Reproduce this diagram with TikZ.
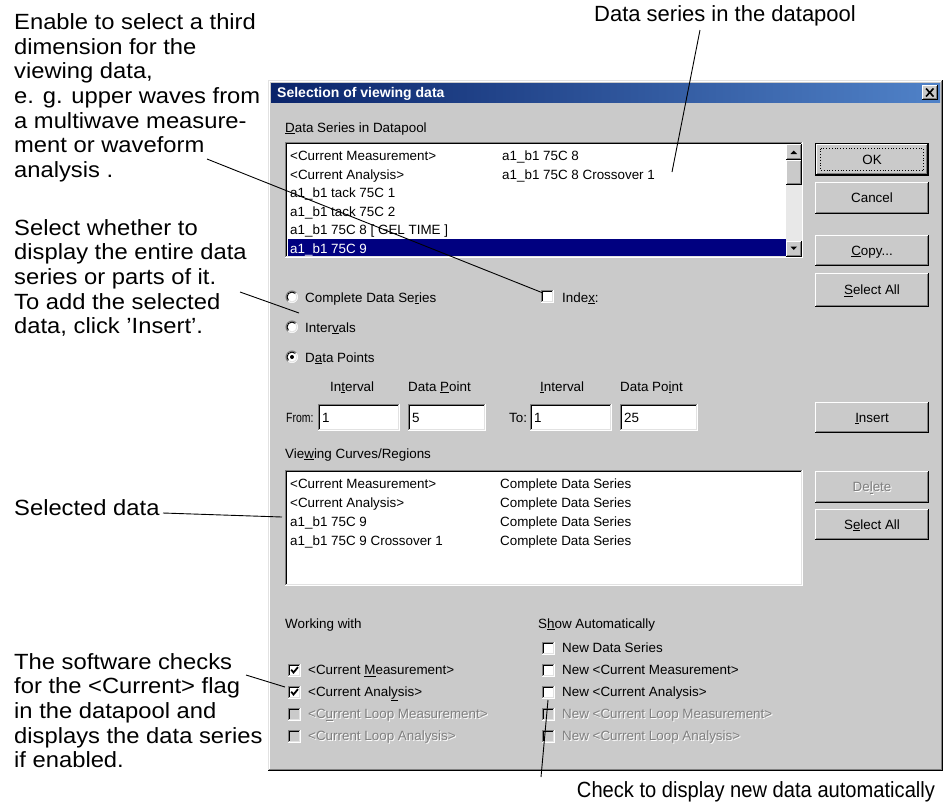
\documentclass[tikz,border=0pt]{standalone}
\usepackage{fontspec}
\setmainfont{Liberation Sans}
\newfontfamily\dlgfont{Liberation Sans}
\newfontfamily\dlgnarrow[FakeStretch=0.78]{Liberation Sans}
\newfontfamily\notewide[FakeStretch=1.08]{Liberation Sans}
\newfontfamily\notenarrow[FakeStretch=0.915]{Liberation Sans}

\definecolor{face}{RGB}{202,202,202}
\definecolor{dkgray}{RGB}{128,128,128}
\definecolor{ltface}{RGB}{226,226,226}
\definecolor{titleleft}{RGB}{10,36,106}
\definecolor{titleright}{RGB}{80,130,200}
\definecolor{selblue}{RGB}{0,0,128}
\definecolor{track}{RGB}{232,232,232}

% access-key underline
\newcommand\ak[1]{\underline{#1}}

% sunken 3D frame (list boxes, edit fields, check boxes)
\newcommand\sunkenbox[5]{%
  \fill[#5] (#1,#2) rectangle (#3,#4);
  \draw[hair,dkgray] (#1+0.5,#4) -- (#1+0.5,#2+0.5) -- (#3,#2+0.5);
  \draw[hair,black] (#1+1.5,#4-1) -- (#1+1.5,#2+1.5) -- (#3-1,#2+1.5);
  \draw[hair,white] (#1,#4-0.5) -- (#3-0.5,#4-0.5) -- (#3-0.5,#2);
  \draw[hair,ltface] (#1+1,#4-1.5) -- (#3-1.5,#4-1.5) -- (#3-1.5,#2+1);
}
% raised 3D frame (push buttons, scroll bar parts)
\newcommand\btnframe[4]{%
  \fill[face] (#1,#2) rectangle (#3,#4);
  \draw[hair,white] (#1+0.5,#4-1) -- (#1+0.5,#2+0.5) -- (#3-1,#2+0.5);
  \draw[hair,black] (#1,#4-0.5) -- (#3-0.5,#4-0.5) -- (#3-0.5,#2);
  \draw[hair,dkgray] (#1+1,#4-1.5) -- (#3-1.5,#4-1.5) -- (#3-1.5,#2+1);
}
% 13x13 check box
\newcommand\chkbox[3]{\sunkenbox{#1}{#2}{#1+13}{#2+13}{#3}}
\newcommand\chkmark[2]{%
  \draw[line width=1.8pt] (#1+3.2,#2+6.2) -- (#1+5.5,#2+9) -- (#1+10,#2+3.6);}
% radio button
\newcommand\radiobtn[2]{%
  \fill[white] (#1,#2) circle (6);
  \draw[hair,dkgray] (#1,#2) ++(135:6) arc[start angle=135,end angle=315,radius=6];
  \draw[hair,black] (#1,#2) ++(135:5) arc[start angle=135,end angle=315,radius=5];
  \draw[hair,ltface] (#1,#2) ++(-45:5) arc[start angle=-45,end angle=135,radius=5];
}

\tikzset{
  hair/.style={line width=1pt},
  dlg/.style={font=\dlgfont\fontsize{13.4}{15}\selectfont, anchor=base west,
    inner sep=0pt, text=black},
  btnlabel/.style={dlg, anchor=base},
  dimtxt/.style={dlg, text=dkgray},
  dimshadow/.style={dlg, text=white},
  note/.style={font=\notewide\fontsize{22}{24.7}\selectfont, align=left,
    anchor=north west, inner sep=0pt},
  noteline/.style={font=\notewide\fontsize{22}{24.7}\selectfont, anchor=base west,
    inner sep=0pt},
  leader/.style={draw=black, line width=0.9pt},
}

\begin{document}
\begin{tikzpicture}[x=1pt,y=-1pt]
\useasboundingbox (0,0) rectangle (944,809);
\fill[white] (0,0) rectangle (944,809);

% ---------- dialog window ----------
\fill[face] (268,80) rectangle (943,771);
\draw[hair,ltface] (268.5,770) -- (268.5,80.5) -- (942,80.5);
\draw[hair,white] (269.5,769) -- (269.5,81.5) -- (941,81.5);
\draw[hair,black] (268,770.5) -- (942.5,770.5) -- (942.5,80);
\draw[hair,dkgray] (269,769.5) -- (941.5,769.5) -- (941.5,81);

% title bar
\shade[left color=titleleft,right color=titleright] (271,83) rectangle (940,102);
\node[font=\dlgfont\bfseries\fontsize{14}{16}\selectfont, text=white,
  anchor=base west, inner sep=0pt] (title) at (277,97) {Selection of viewing data};
\btnframe{922}{85}{938}{100}
\draw[line width=1.6pt] (926,88.5) -- (933.5,96.5) (933.5,88.5) -- (926,96.5);

% ---------- data series list ----------
\node[dlg] (lblseries) at (285,132) {\ak{D}ata Series in Datapool};
\sunkenbox{285}{142}{803}{258}{white}
\fill[selblue] (287.5,238.5) rectangle (786,256);
\node[dlg] (s1a) at (290,160.5) {<Current Measurement>};
\node[dlg] (s1b) at (502,160.5) {a1\_b1 75C 8};
\node[dlg] (s2a) at (290,179) {<Current Analysis>};
\node[dlg] (s2b) at (502,179) {a1\_b1 75C 8 Crossover 1};
\node[dlg] (s3) at (290,197.5) {a1\_b1 tack 75C 1};
\node[dlg] (s4) at (290,216) {a1\_b1 tack 75C 2};
\node[dlg] (s5) at (290,234.5) {a1\_b1 75C 8 [ GEL TIME ]};
\node[dlg,text=white] (s6) at (290,253) {a1\_b1 75C 9};

% scroll bar
\fill[track] (786,144) rectangle (801.5,256.5);
\btnframe{786}{144}{801.5}{160}
\fill (790.5,154) -- (797,154) -- (793.75,150.5) -- cycle;
\btnframe{786}{160}{801.5}{185}
\btnframe{786}{240.5}{801.5}{256.5}
\fill (790.5,246.5) -- (797,246.5) -- (793.75,250) -- cycle;

% ---------- selection mode ----------
\radiobtn{292}{297}
\radiobtn{292}{327}
\radiobtn{292}{357}
\fill (292,357) circle (2);
\node[dlg] (rcomplete) at (305,302) {Complete Data Se\ak{r}ies};
\node[dlg] (rinterv) at (305,332) {Inter\ak{v}als};
\node[dlg] (rpoints) at (305,362) {D\ak{a}ta Points};

\chkbox{541}{290}{white}
\node[dlg] (lblindex) at (562,302) {Inde\ak{x}:};

\node[dlg] (hint1) at (330,391) {In\ak{t}erval};
\node[dlg] (hpnt1) at (408,391) {Data \ak{P}oint};
\node[dlg] (hint2) at (540,391) {\ak{I}nterval};
\node[dlg] (hpnt2) at (620,391) {Data Po\ak{i}nt};

\node[dlg,font=\dlgnarrow\fontsize{13.4}{15}\selectfont] (lblfrom) at (286,422) {From:};
\sunkenbox{318}{404}{400}{431}{white}
\sunkenbox{408}{404}{486}{431}{white}
\node[dlg] (vfrom1) at (322,422) {1};
\node[dlg] (vfrom2) at (412,422) {5};
\node[dlg] (lblto) at (509,422) {To:};
\sunkenbox{530}{404}{612}{431}{white}
\sunkenbox{620}{404}{698}{431}{white}
\node[dlg] (vto1) at (534,422) {1};
\node[dlg] (vto2) at (624,422) {25};

% ---------- viewing curves list ----------
\node[dlg] (lblcurves) at (285,458) {Vie\ak{w}ing Curves/Regions};
\sunkenbox{285}{470}{803}{586}{white}
\node[dlg] (c1a) at (290,488) {<Current Measurement>};
\node[dlg] (c1b) at (500,488) {Complete Data Series};
\node[dlg] (c2a) at (290,507) {<Current Analysis>};
\node[dlg] (c2b) at (500,507) {Complete Data Series};
\node[dlg] (c3a) at (290,526) {a1\_b1 75C 9};
\node[dlg] (c3b) at (500,526) {Complete Data Series};
\node[dlg] (c4a) at (290,545) {a1\_b1 75C 9 Crossover 1};
\node[dlg] (c4b) at (500,545) {Complete Data Series};

% ---------- push buttons ----------
\draw[hair,black] (815.5,143.5) rectangle (928.5,175.5);
\btnframe{816}{144}{928}{175}
\draw[black,dotted,line width=0.8pt] (820.5,148.5) rectangle (923.5,170.5);
\node[btnlabel] (bok) at (872,164) {OK};
\btnframe{815}{182}{929}{214}
\node[btnlabel] (bcancel) at (872,202.5) {Cancel};
\btnframe{815}{235}{929}{266}
\node[btnlabel] (bcopy) at (872,255) {\ak{C}opy...};
\btnframe{815}{273}{929}{307}
\node[btnlabel] (bselall) at (872,294.5) {\ak{S}elect All};
\btnframe{815}{402}{929}{433}
\node[btnlabel] (binsert) at (872,422) {\ak{I}nsert};
\btnframe{815}{471}{929}{503}
\node[btnlabel,text=white] (bdelshadow) at (873,492.5) {De\ak{l}ete};
\node[btnlabel,text=dkgray] (bdelete) at (872,491.5) {De\ak{l}ete};
\btnframe{815}{509}{929}{540}
\node[btnlabel] (bselall2) at (872,529) {S\ak{e}lect All};

% ---------- working with / show automatically ----------
\node[dlg] (lblwork) at (285,628) {Working with};
\node[dlg] (lblshow) at (538,628) {S\ak{h}ow Automatically};

\chkbox{288}{663.5}{white}\chkmark{288}{663.5}
\chkbox{288}{685.5}{white}\chkmark{288}{685.5}
\chkbox{288}{707.5}{face}
\chkbox{288}{729.5}{face}
\node[dlg] (w1) at (308,674.5) {<Current \ak{M}easurement>};
\node[dlg] (w2) at (308,696.5) {<Current Anal\ak{y}sis>};
\node[dimshadow] (w3s) at (309,719.5) {<C\ak{u}rrent Loop Measurement>};
\node[dimtxt] (w3) at (308,718.5) {<C\ak{u}rrent Loop Measurement>};
\node[dimshadow] (w4s) at (309,741.5) {<Current Loop Analysis>};
\node[dimtxt] (w4) at (308,740.5) {<Current Loop Analysis>};

\chkbox{542}{641.5}{white}
\chkbox{542}{663.5}{white}
\chkbox{542}{685.5}{white}
\chkbox{542}{707.5}{face}
\chkbox{542}{729.5}{face}
\node[dlg] (a1) at (562,652.5) {New Data Series};
\node[dlg] (a2) at (562,674.5) {New <Current Measurement>};
\node[dlg] (a3) at (562,696.5) {New <Current Analysis>};
\node[dimshadow] (a4s) at (563,719.5) {New <Current Loop Measurement>};
\node[dimtxt] (a4) at (562,718.5) {New <Current Loop Measurement>};
\node[dimshadow] (a5s) at (563,741.5) {New <Current Loop Analysis>};
\node[dimtxt] (a5) at (562,740.5) {New <Current Loop Analysis>};

% ---------- annotations ----------
\node[font=\fontsize{22}{24.7}\selectfont, anchor=base, inner sep=0pt]
  (ndatapool) at (725,21) {Data series in the datapool};
\node[note] (nindex) at (14,13.3) {Enable to select a third\\dimension for the\\viewing
  data,\\e. g. upper waves from\\a multiwave measure-\\ment or waveform\\analysis .};
\node[note] (nmode) at (14,219) {Select whether to\\display the entire data\\series
  or parts of it.\\To add the selected\\data, click ’Insert’.};
\node[noteline] (nselected) at (14,515) {Selected data};
\node[note] (ncurrent) at (14,653) {The software checks\\for the <Current> flag\\in
  the datapool and\\displays the data series\\if enabled.};
\node[font=\notenarrow\fontsize{22}{24.7}\selectfont, anchor=base, inner sep=0pt]
  (nauto) at (756,797) {Check to display new data automatically};

\coordinate (pdpA) at (700,30);
\coordinate (pdpB) at (672,172);
\coordinate (pidxA) at (207,159);
\coordinate (pidxB) at (543,293);
\coordinate (pmodeA) at (240,292);
\coordinate (pmodeB) at (299,313);
\coordinate (pselA) at (163,513);
\coordinate (pselB) at (282,517);
\coordinate (pcurA) at (246,675);
\coordinate (pcurB) at (285,687);
\coordinate (pautoA) at (548,700);
\coordinate (pautoB) at (541,777);
\draw[leader] (pdpA) -- (pdpB);
\draw[leader] (pidxA) -- (pidxB);
\draw[leader] (pmodeA) -- (pmodeB);
\draw[leader] (pselA) -- (pselB);
\draw[leader] (pcurA) -- (pcurB);
\draw[leader] (pautoA) -- (pautoB);
\end{tikzpicture}
\end{document}
